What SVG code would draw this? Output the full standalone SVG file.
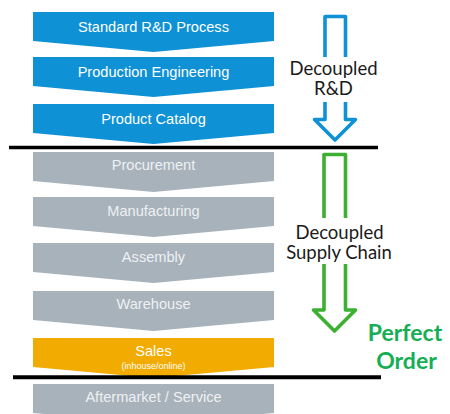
<svg xmlns="http://www.w3.org/2000/svg" width="450" height="414" viewBox="0 0 450 414">
<style>
.blue{fill:#0f91d5}
.gray{fill:#a8b2bb}
.orange{fill:#f2ab00}
.lbl{font-family:"Liberation Sans",Arial,sans-serif;font-size:14.6px;text-anchor:middle}
.wt{fill:#ffffff}
.gt{fill:#eef1f4}
.side{font-family:Lato,"Open Sans",sans-serif;font-size:18.5px;fill:#1a1a1a;text-anchor:middle}
.perf{font-family:Lato,"Open Sans",sans-serif;font-weight:bold;font-size:23px;fill:#16ae55;text-anchor:middle}
.arrow{fill:none;stroke-width:3.6;stroke-linejoin:round}
.bar{stroke:#000;fill:none}
</style>
<rect width="450" height="414" fill="#ffffff"/>
<g id="n1"><path class="blue" d="M33,12H274V41L153.5,52L33,41Z"/><text class="lbl wt" x="153.5" y="32">Standard R&amp;D Process</text></g>
<g id="n2"><path class="blue" d="M33,57H274V86L153.5,97L33,86Z"/><text class="lbl wt" x="153.5" y="76.5">Production Engineering</text></g>
<g id="n3"><path class="blue" d="M33,104H274V133L153.5,144L33,133Z"/><text class="lbl wt" x="153.5" y="124">Product Catalog</text></g>
<g id="n4"><path class="gray" d="M33,152H274V181L153.5,192L33,181Z"/><text class="lbl gt" x="153.5" y="170">Procurement</text></g>
<g id="n5"><path class="gray" d="M33,197H274V226L153.5,237L33,226Z"/><text class="lbl gt" x="153.5" y="216">Manufacturing</text></g>
<g id="n6"><path class="gray" d="M33,243H274V272L153.5,283L33,272Z"/><text class="lbl gt" x="153.5" y="262">Assembly</text></g>
<g id="n7"><path class="gray" d="M33,291H274V320L153.5,331L33,320Z"/><text class="lbl gt" x="153.5" y="309">Warehouse</text></g>
<g id="n8"><path class="orange" d="M33,338H274V367L153.5,378L33,367Z"/><text class="lbl wt" x="153.5" y="355.5">Sales</text><text class="lbl wt" x="153.5" y="369" style="font-size:9px">(inhouse/online)</text></g>
<g id="n9"><path class="gray" d="M33,384H274V413L153.5,424L33,413Z"/><text class="lbl gt" x="153.5" y="402">Aftermarket / Service</text></g>
<g id="connectors">
<line class="bar" x1="9" y1="147.5" x2="378" y2="147.5" stroke-width="3.6"/>
<line class="bar" x1="13" y1="377.3" x2="381" y2="377.3" stroke-width="4"/>
<path class="arrow" stroke="#0f91d5" d="M325,57V16.5H345.5V57M325,102V119.5H314.5L335,140L355.5,119.5H345.5V102"/>
<path class="arrow" stroke="#3cb030" d="M324,218V154.5H345.5V218M324,264V310H313.5L334.5,331L355.5,310H345.5V264"/>
</g>
<g id="labels">
<text class="side" x="333.5" y="75">Decoupled</text>
<text class="side" x="333.5" y="95">R&amp;D</text>
<text class="side" x="339.5" y="238.5">Decoupled</text>
<text class="side" x="339" y="259">Supply Chain</text>
<text class="perf" x="405" y="341">Perfect</text>
<text class="perf" x="406.5" y="369">Order</text>
</g>
</svg>
